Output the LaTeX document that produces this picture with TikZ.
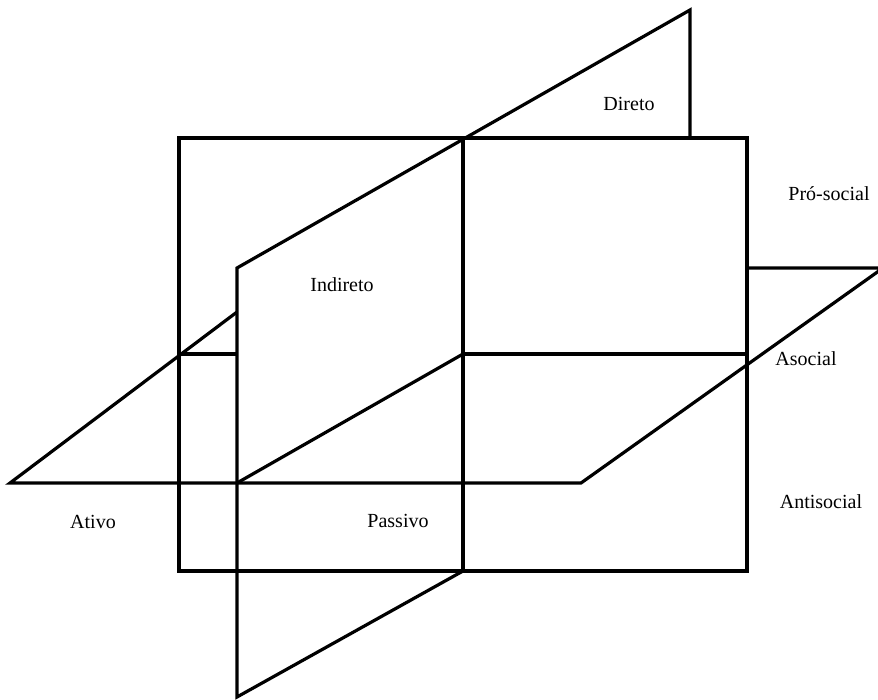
\documentclass[tikz,border=0pt]{standalone}
\usepackage{fontspec}
\setmainfont{Liberation Serif}
\begin{document}
\begin{tikzpicture}[x=1pt,y=-1pt,
  plane/.style={line width=3.2pt,line join=miter},
  lbl/.style={anchor=base,inner sep=0pt,font=\fontsize{20}{22}\selectfont}]
\useasboundingbox (0,0) rectangle (878,699);
\clip (0,0) rectangle (878,699);
% front vertical plane
\coordinate (fTL) at (179,138);
\coordinate (fBR) at (747,571);
\coordinate (mT) at (463,138);
\coordinate (mB) at (463,571);
% oblique vertical plane
\coordinate (oTR) at (690,10);
\coordinate (oR) at (690,138);
\coordinate (oTL) at (237,268);
\coordinate (oBL) at (237,697);
% horizontal plane
\coordinate (hL) at (10,483);
\coordinate (hB) at (581,483);
\coordinate (hR) at (883,268);
\coordinate (hRT) at (747,268);
\coordinate (hLh) at (237,312);
% intersection lines
\coordinate (iA) at (179,354);
\coordinate (iB) at (237,354);
\coordinate (iC) at (463,354);
\coordinate (iD) at (747,354);
\coordinate (iE) at (237,483);

\draw[plane] (fTL) rectangle (fBR);
\draw[plane] (mT) -- (mB);
\draw[plane] (oR) -- (oTR) -- (oTL) -- (oBL) -- (mB);
\draw[plane] (hLh) -- (hL) -- (hB) -- (hR) -- (hRT);
\draw[plane] (iA) -- (iB);
\draw[plane] (iC) -- (iD);
\draw[plane] (iE) -- (iC);

\node[lbl] (direto) at (629,110) {Direto};
\node[lbl] (prosocial) at (829,200) {Pró-social};
\node[lbl] (indireto) at (342,291) {Indireto};
\node[lbl] (asocial) at (806,365) {Asocial};
\node[lbl] (antisocial) at (821,508) {Antisocial};
\node[lbl] (ativo) at (93,528) {Ativo};
\node[lbl] (passivo) at (398,527) {Passivo};
\end{tikzpicture}
\end{document}
